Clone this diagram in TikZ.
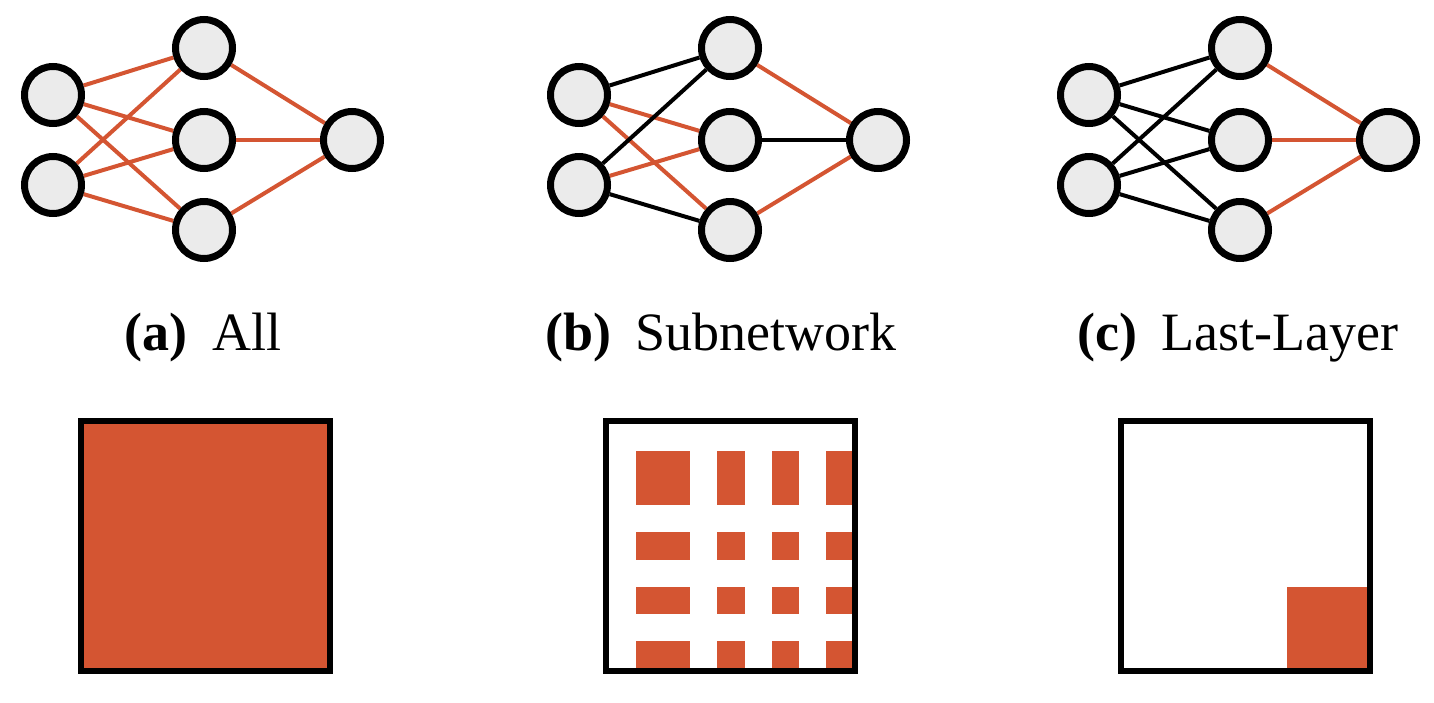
\documentclass[tikz,border=0pt]{standalone}
\usepackage{fontspec}
\setmainfont{Liberation Serif}
\usetikzlibrary{backgrounds}
\definecolor{upd}{HTML}{D45532}
\definecolor{nodegray}{HTML}{EBEBEB}
\tikzset{neuron/.style={draw,shape=circle,fill=nodegray,line width=3.5pt,minimum size=28.5pt,inner sep=0pt},
  fixed/.style={draw,black,line width=2pt},
  free/.style={draw,upd,line width=2pt},
  frame/.style={draw,line width=3pt},
  lbl/.style={anchor=base,inner sep=0pt,font=\fontsize{27}{31}\selectfont}}
\newcommand{\capgap}{\hspace{0.45em}}

\begin{document}
\begin{tikzpicture}[x=0.5pt, y=-0.5pt]
    \useasboundingbox (0,0) rectangle (1434,702);
    
    % the three small networks
    \foreach \p/\dx in {a/0, b/526, c/1036} {
        \node [neuron] (\p in1) at (\dx+53, 95) {};
        \node [neuron] (\p in2) at (\dx+53, 185) {};
        \node [neuron] (\p hid1) at (\dx+204, 48) {};
        \node [neuron] (\p hid2) at (\dx+204, 140) {};
        \node [neuron] (\p hid3) at (\dx+204, 230) {};
        \node [neuron] (\p out) at (\dx+352, 140) {};
    }
    
    \begin{pgfonlayer}{background}
        % (a) every weight
        \foreach \s in {in1, in2}
            \foreach \t in {hid1, hid2, hid3}
                \draw [free] (a\s) -- (a\t);
        \foreach \t in {hid1, hid2, hid3}
            \draw [free] (a\t) -- (aout);
        % (b) some of them
        \foreach \s/\t/\k in {in1/hid1/fixed, in1/hid2/free, in1/hid3/free, in2/hid1/fixed, in2/hid2/free, in2/hid3/fixed, hid1/out/free, hid2/out/fixed, hid3/out/free}
            \draw [\k] (b\s) -- (b\t);
        % (c) only the last layer
        \foreach \s in {in1, in2}
            \foreach \t in {hid1, hid2, hid3}
                \draw [fixed] (c\s) -- (c\t);
        \foreach \t in {hid1, hid2, hid3}
            \draw [free] (c\t) -- (cout);
    \end{pgfonlayer}
    
    \node [lbl] (alabel) at (203, 350) {\textbf{(a)}\capgap All};
    \node [lbl] (blabel) at (721, 350) {\textbf{(b)}\capgap Subnetwork};
    \node [lbl] (clabel) at (1238, 350) {\textbf{(c)}\capgap Last-Layer};
    
    % weight matrices
    \draw [frame, fill=upd] (81,421) rectangle (330,671);
    
    \foreach \c/\w in {1/2, 4/1, 6/1, 8/1}
        \foreach \r/\h in {1/2, 4/1, 6/1, 8/1}
            \fill [upd] (609+\c*27.1, 424+\r*27.1) rectangle ++(\w*27.1, \h*27.1);
    \draw [frame] (606,421) rectangle (855,671);
    
    \fill [upd] (1124+6*27.1, 424+6*27.1) rectangle (1368,668);
    \draw [frame] (1121,421) rectangle (1370,671);
    
\end{tikzpicture}
\end{document}
